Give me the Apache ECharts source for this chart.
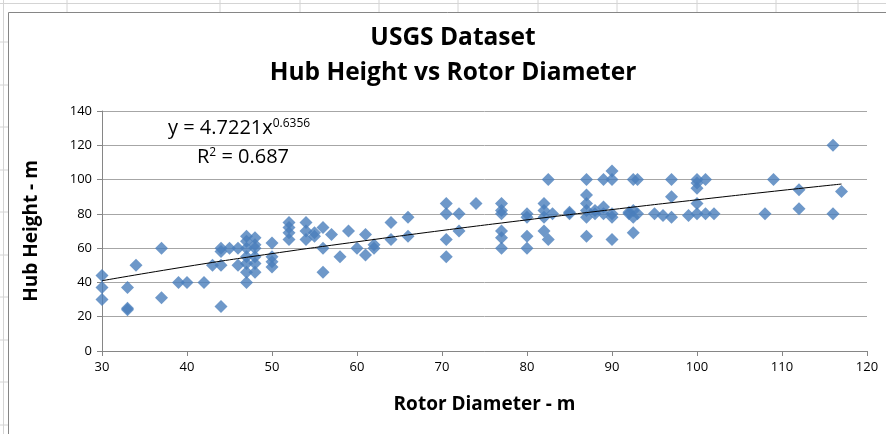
<!DOCTYPE html>
<html>
<head>
<meta charset="utf-8">
<script src="https://cdn.jsdelivr.net/npm/echarts@6/dist/echarts.min.js"></script>
<style>
  html, body { margin: 0; padding: 0; background: #fff; }
  #chart { width: 886px; height: 434px; }
</style>
</head>
<body>
<div id="chart"></div>
<script>
// rotor diameter (m) -> hub heights (m)
var rotorDiameter = [30, 33, 34, 37, 39, 40, 42, 43, 44, 45, 46, 47, 48, 50, 52, 54, 55, 56, 57, 58, 59, 60, 61, 62, 64, 66,
  70.5, 72, 74, 77, 80, 82, 82.5, 83, 85, 87, 88, 89, 90, 92, 92.5, 93, 95, 96, 97, 99, 100, 101, 102, 108, 109, 112, 116, 117];
var hubHeights = [
  [44, 37, 30], [37, 25, 24], [50], [60, 31], [40], [40], [40], [50], [60, 58, 50, 26], [60], [60, 50],
  [67, 64, 60, 55, 51, 46, 40], [66, 62, 60, 55, 51, 46], [63, 55, 52, 49], [75, 72, 69, 65], [75, 70, 65],
  [67, 69], [72, 60, 46], [68], [55], [70], [60], [68, 56], [60, 62], [75, 65], [78, 67],
  [86, 80, 65, 55], [80, 70], [86], [86, 82, 80, 70, 66, 60], [80, 78, 67, 60], [86, 82, 78, 70], [100, 65], [80],
  [80, 81], [100, 91, 86, 82, 78, 67], [82, 80], [100, 84, 80], [105, 100, 80, 78, 65], [80, 81], [100, 82, 78, 69],
  [100, 80], [80], [79], [100, 90, 78], [79], [100, 98, 95, 86, 80], [100, 80], [80], [80], [100], [94, 83], [120, 80], [93]
];
// power trend line y = 4.7221x^0.6356
var trendX = [30, 40, 50, 60, 70, 80, 90, 100, 110, 117];
var trendY = [41.0, 49.3, 56.8, 63.7, 70.3, 76.5, 82.5, 88.2, 93.7, 97.4];

var points = [];
rotorDiameter.forEach(function (d, i) {
  hubHeights[i].forEach(function (h) { points.push([d, h]); });
});
var trend = trendX.map(function (x, i) { return [x, trendY[i]]; });

var FONT = '"Open Sans", sans-serif';

// faint spreadsheet cell lines behind the chart
var sheet = [];
[67, 220, 300, 379, 458, 538, 617, 697, 776, 858].forEach(function (x) {
  sheet.push({ type: 'line', shape: { x1: x, y1: 0, x2: x, y2: 12 }, style: { stroke: '#d4d4d4', lineWidth: 1 } });
});
[42, 85, 127, 170, 212, 255, 297, 340, 382, 425].forEach(function (y) {
  sheet.push({ type: 'line', shape: { x1: 0, y1: y, x2: 8, y2: y }, style: { stroke: '#d4d4d4', lineWidth: 1 } });
});
sheet.push({ type: 'line', shape: { x1: 0, y1: 3.5, x2: 886, y2: 3.5 }, style: { stroke: '#d4d4d4', lineWidth: 1 } });
sheet.push({ type: 'line', shape: { x1: 3.5, y1: 0, x2: 3.5, y2: 434 }, style: { stroke: '#d4d4d4', lineWidth: 1 } });

var chart = echarts.init(document.getElementById('chart'));
chart.setOption({
  backgroundColor: '#fff',
  animation: false,
  grid: { left: 102, right: 19, top: 111, bottom: 83 },
  xAxis: {
    type: 'value',
    min: 30, max: 120, interval: 10,
    name: 'Rotor Diameter - m',
    nameLocation: 'middle',
    nameGap: 44,
    nameTextStyle: { fontFamily: FONT, fontSize: 19, fontWeight: 'bold', color: '#000' },
    axisLine: { lineStyle: { color: '#868686' } },
    axisTick: { show: true, length: 5, lineStyle: { color: '#868686' } },
    axisLabel: { fontFamily: FONT, fontSize: 13, color: '#000', margin: 10 },
    splitLine: { show: false }
  },
  yAxis: {
    type: 'value',
    min: 0, max: 140, interval: 20,
    name: 'Hub Height - m',
    nameLocation: 'middle',
    nameGap: 61,
    nameTextStyle: { fontFamily: FONT, fontSize: 19, fontWeight: 'bold', color: '#000' },
    axisLine: { show: true, lineStyle: { color: '#868686' } },
    axisTick: { show: true, length: 5, lineStyle: { color: '#868686' } },
    axisLabel: { fontFamily: FONT, fontSize: 13, color: '#000', margin: 10 },
    splitLine: { show: true, lineStyle: { color: '#a6a6a6', width: 1 } }
  },
  series: [
    {
      name: 'Hub Height',
      type: 'scatter',
      data: points,
      symbol: 'diamond',
      symbolSize: [13, 13],
      itemStyle: { color: '#4a7ebb' },
      z: 2
    },
    {
      name: 'Power trend',
      type: 'line',
      data: trend,
      smooth: true,
      showSymbol: false,
      lineStyle: { color: '#000', width: 1 },
      z: 3
    }
  ],
  graphic: sheet.concat([
    {
      type: 'rect',
      shape: { x: 8.5, y: 12.5, width: 900, height: 440 },
      style: { fill: null, stroke: '#868686', lineWidth: 1 },
      z: -1
    },
    {
      type: 'text',
      x: 453, y: 38,
      style: {
        text: 'USGS Dataset', align: 'center', verticalAlign: 'middle',
        font: 'bold 24.5px "Open Sans", sans-serif', fill: '#000'
      }
    },
    {
      type: 'text',
      x: 453, y: 73,
      style: {
        text: 'Hub Height vs Rotor Diameter', align: 'center', verticalAlign: 'middle',
        font: 'bold 24.5px "Open Sans", sans-serif', fill: '#000'
      }
    },
    {
      type: 'text',
      left: 168, top: 118,
      style: {
        text: '{b|y = 4.7221x}{s|0.6356}',
        rich: {
          b: { fontFamily: FONT, fontSize: 20, color: '#000' },
          s: { fontFamily: FONT, fontSize: 12, color: '#000', padding: [0, 0, 9, 0] }
        }
      }
    },
    {
      type: 'text',
      left: 197, top: 147,
      style: {
        text: '{b|R}{s|2}{b| = 0.687}',
        rich: {
          b: { fontFamily: FONT, fontSize: 20, color: '#000' },
          s: { fontFamily: FONT, fontSize: 12, color: '#000', padding: [0, 0, 9, 0] }
        }
      }
    }
  ])
});
</script>
</body>
</html>
